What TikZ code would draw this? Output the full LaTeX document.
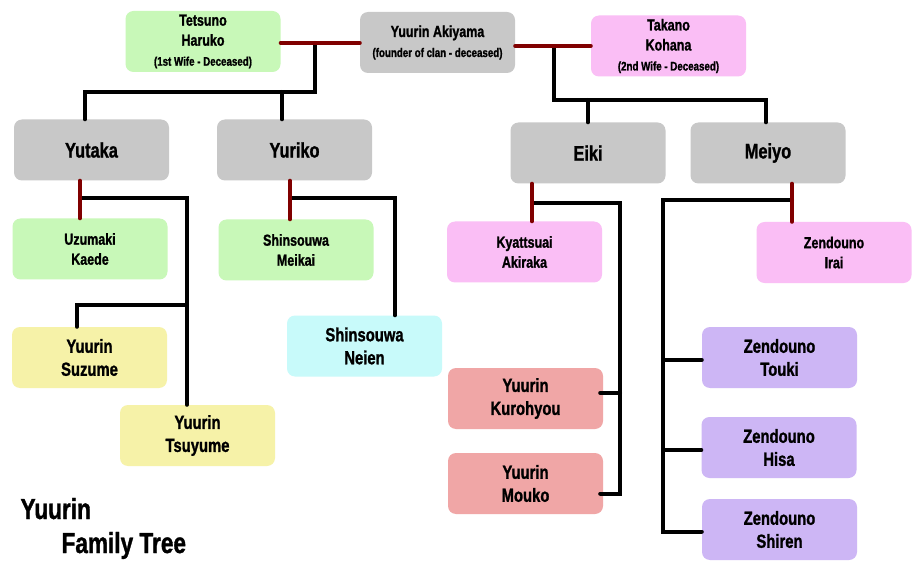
\documentclass[tikz,border=0pt]{standalone}
\usepackage{fontspec}
\setmainfont{Liberation Sans}[FakeStretch=0.78, FakeBold=1.2]
\usepackage{xcolor}
\usepackage{tikz}
\usetikzlibrary{positioning}

\definecolor{clangrey}{RGB}{200,200,200}
\definecolor{lawgreen}{RGB}{200,248,184}
\definecolor{lawpink}{RGB}{250,190,245}
\definecolor{kidyellow}{RGB}{246,242,168}
\definecolor{kidcyan}{RGB}{200,250,250}
\definecolor{kidsalmon}{RGB}{240,166,166}
\definecolor{kidlavender}{RGB}{205,182,245}
\definecolor{wedred}{RGB}{128,0,0}

\begin{document}
\begin{tikzpicture}[x=1pt, y=-1pt,
    person/.style={rectangle, rounded corners=8pt, minimum width=155pt, minimum height=61pt,
      inner sep=0pt, align=center, font=\bfseries\fontsize{16}{20}\selectfont},
    parent/.style={person, font=\bfseries\fontsize{21}{24}\selectfont},
    grandkid/.style={person, font=\bfseries\fontsize{19}{23}\selectfont},
    clan/.style={fill=clangrey},
    inlawA/.style={fill=lawgreen},
    inlawB/.style={fill=lawpink},
    yutakakids/.style={fill=kidyellow},
    yurikokids/.style={fill=kidcyan},
    eikikids/.style={fill=kidsalmon},
    meiyokids/.style={fill=kidlavender},
    descent/.style={draw=black, line width=4pt, line cap=round},
    marriage/.style={draw=wedred, line width=4pt, line cap=round}
  ]
    \fill[white] (0,0) rectangle (924,572);
    \useasboundingbox (0,0) rectangle (924,572);

    % First generation
    \node[person, inlawA] (haruko) at (203,41.5) {Tetsuno\\Haruko\\{\fontsize{12.5}{14}\selectfont (1st Wife - Deceased)}};
    \node[person, clan] (akiyama) at (437.5,42.5) {Yuurin Akiyama\\{\fontsize{12.5}{14}\selectfont (founder of clan - deceased)}};
    \node[person, inlawB] (kohana) at (668.5,46) {Takano\\Kohana\\{\fontsize{12.5}{14}\selectfont (2nd Wife - Deceased)}};

    % Children
    \node[parent, clan] (yutaka) at (91.5,150) {Yutaka};
    \node[parent, clan] (yuriko) at (294.5,150) {Yuriko};
    \node[parent, clan] (eiki) at (588,153) {Eiki};
    \node[parent, clan] (meiyo) at (768,153) {Meiyo};

    % Spouses of the children
    \node[person, inlawA] (kaede) at (90,249) {Uzumaki\\Kaede};
    \node[person, inlawA] (meikai) at (296,250) {Shinsouwa\\Meikai};
    \node[person, inlawB] (akiraka) at (524.5,252) {Kyattsuai\\Akiraka};
    \node[person, inlawB] (irai) at (834,252.5) {Zendouno\\Irai};

    % Grandchildren
    \node[grandkid, yutakakids] (suzume) at (89.5,357.5) {Yuurin\\Suzume};
    \node[grandkid, yutakakids] (tsuyume) at (197.5,435.5) {Yuurin\\Tsuyume};
    \node[grandkid, yurikokids] (neien) at (364.5,346) {Shinsouwa\\Neien};
    \node[grandkid, eikikids] (kurohyou) at (525.5,398.5) {Yuurin\\Kurohyou};
    \node[grandkid, eikikids] (mouko) at (525.5,483.5) {Yuurin\\Mouko};
    \node[grandkid, meiyokids] (touki) at (779.5,357.5) {Zendouno\\Touki};
    \node[grandkid, meiyokids] (hisa) at (779,447.5) {Zendouno\\Hisa};
    \node[grandkid, meiyokids] (shiren) at (779.5,529.5) {Zendouno\\Shiren};

    % Descent lines
    \coordinate (m1) at (315,43);
    \coordinate (j1) at (315,92);
    \draw[descent] (m1) -- (j1) -| ([xshift=-6.5pt]yutaka.north);
    \draw[descent] ([xshift=-12.5pt]yuriko.north) -- ([xshift=-12.5pt]yuriko.north |- j1);

    \coordinate (m2) at (554,47);
    \coordinate (j2) at (554,100);
    \draw[descent] (m2) -- (j2) -| ([xshift=-2pt]meiyo.north);
    \draw[descent] (eiki.north) -- (eiki.north |- j2);

    \coordinate (c1) at (80,198);
    \coordinate (c1b) at (187,305);
    \draw[descent] (c1) -| ([xshift=-10.5pt]tsuyume.north);
    \draw[descent] (c1b) -| ([xshift=-12.5pt]suzume.north);

    \coordinate (c2) at (290,198);
    \draw[descent] (c2) -| ([xshift=30.5pt]neien.north);

    \coordinate (c3) at (532,203);
    \coordinate (r3) at (620,0);
    \draw[descent] (c3) -| ([yshift=-10pt]mouko.east -| r3) -- ([yshift=-10pt, xshift=-3pt]mouko.east);
    \draw[descent] ([yshift=5.5pt, xshift=-3pt]kurohyou.east) -- ([yshift=5.5pt]kurohyou.east -| r3);

    \coordinate (c4) at (792,200);
    \coordinate (r4) at (663,0);
    \draw[descent] (c4) -| ([yshift=-2pt]shiren.west -| r4) -- ([yshift=-2pt]shiren.west);
    \draw[descent] ([yshift=-2.5pt]touki.west) -- ([yshift=-2.5pt]touki.west -| r4);
    \draw[descent] ([yshift=-2.5pt]hisa.west) -- ([yshift=-2.5pt]hisa.west -| r4);

    % Marriage lines
    \draw[marriage] (haruko.east |- m1) -- (akiyama.west |- m1);
    \draw[marriage] (akiyama.east |- kohana.west) -- (kohana.west);
    \draw[marriage] ([xshift=-11.5pt]yutaka.south) -- ([xshift=-11.5pt]yutaka.south |- kaede.north);
    \draw[marriage] ([xshift=-4.5pt]yuriko.south) -- ([xshift=-4.5pt]yuriko.south |- meikai.north);
    \draw[marriage] ([xshift=-56pt]eiki.south) -- ([xshift=-56pt]eiki.south |- akiraka.north);
    \draw[marriage] ([xshift=24pt]meiyo.south) -- ([xshift=24pt]meiyo.south |- irai.north);

    % Title
    \node[anchor=base west, font=\bfseries\fontsize{29}{32}\selectfont] (title1) at (17,519) {Yuurin};
    \node[anchor=base west, font=\bfseries\fontsize{29}{32}\selectfont] (title2) at (58,553) {Family Tree};
  \end{tikzpicture}
\end{document}
